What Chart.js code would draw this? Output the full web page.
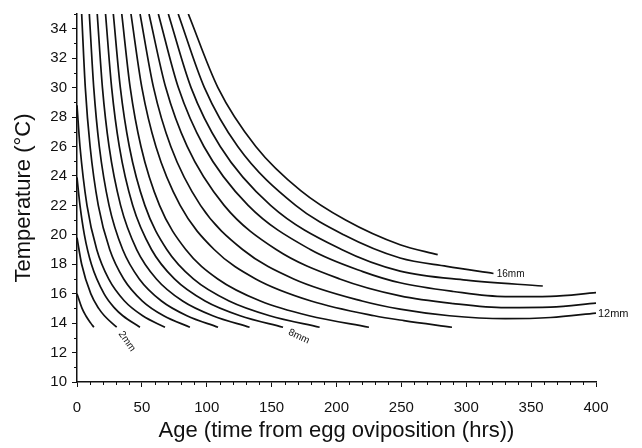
<!DOCTYPE html>
<html>
<head>
<meta charset="utf-8">
<script src="https://cdn.jsdelivr.net/npm/chart.js@4.4.1/dist/chart.umd.min.js"></script>
<style>
  html, body { margin: 0; padding: 0; background: #ffffff; }
  #wrap { width: 642px; height: 448px; position: relative; }
</style>
</head>
<body>
<div id="wrap"><canvas id="c" width="642" height="448"></canvas></div>
<script>
// ---- Data: isolines of larval length, [age (hrs), temperature (°C)] ----
const curve1mm  = [[0,16],[3.9,15],[6.8,14.5],[10.6,14],[13,13.72]];
const curve2mm  = [[0,19.8],[3.6,18],[10.6,16],[16.7,15],[21.1,14.5],[30.6,13.72]];
const curve3mm  = [[0,23.9],[2.3,22],[5.7,20],[11.1,18],[20.8,16],[29.2,15],[35.3,14.5],[48.5,13.72]];
const curve4mm  = [[0,28.8],[2.3,26],[7.7,22],[15.2,19],[24.4,17],[36.6,15.5],[50.6,14.5],[67.8,13.72]];
const curve5mm  = [[3.6,35],[6.4,30],[10.1,26],[16.4,22],[25.2,19],[36,17],[50.4,15.5],[66.8,14.5],[87,13.72]];
const curve6mm  = [[9.5,35],[12.9,30],[17.2,26],[24.7,22],[35.2,19],[48,17],[65.1,15.5],[84.7,14.5],[108.7,13.72]];
const curve7mm  = [[15.6,35],[19.6,30],[24.7,26],[33.6,22],[46,19],[61.2,17],[81.4,15.5],[104.6,14.5],[133,13.72]];
const curve8mm  = [[22,35],[26.7,30],[32.6,26],[42.9,22],[57.4,19],[75.1,17],[98.7,15.5],[125.7,14.5],[158.8,13.72]];
const curve9mm  = [[28,35],[33.4,30],[40.3,26],[52.3,22],[69.2,19],[89.7,17],[117.2,15.5],[148.5,14.5],[187,13.72]];
const curve10mm = [[34.5,35],[41,30],[49.3,26],[63.6,22],[83.8,19],[108.5,17],[141.3,15.5],[178.9,14.5],[225,13.72]];
const curve11mm = [[41.6,35],[50,30],[60.8,26],[79.5,22],[105.7,19],[137.7,17],[180.4,15.5],[229.1,14.5],[252,14.17],[289,13.72]];
const curve12mm = [[48.6,35],[59,30],[72.3,26],[95.2,22],[127.6,19],[167,17],[219.7,15.5],[249,14.95],[287,14.5],[330,14.3],[365,14.38],[400,14.68]];
const curve13mm = [[55.5,35],[68.4,30],[84.9,26],[113.4,22],[153.5,19],[202.5,17],[249,15.85],[290,15.33],[330,15.05],[365,15.08],[400,15.36]];
const curve14mm = [[62.7,35],[78.1,30],[97.8,26],[131.9,22],[179.8,19],[220.3,17.5],[249,16.74],[290,16.15],[330,15.8],[365,15.82],[400,16.07]];
const curve15mm = [[70.4,35],[87.9,30],[110.4,26],[149.2,22],[203.9,19],[249,17.53],[300,16.92],[359,16.52]];
const curve16mm = [[78,35],[98.2,30],[123.9,26],[168.5,22],[205.5,20],[249,18.42],[285,17.85],[321,17.37]];
const curve17mm = [[85.8,35],[108.6,30],[137.8,26],[172.4,23],[207,21],[249,19.32],[278,18.65]];

const curves = [curve1mm, curve2mm, curve3mm, curve4mm, curve5mm, curve6mm, curve7mm, curve8mm,
  curve9mm, curve10mm, curve11mm, curve12mm, curve13mm, curve14mm, curve15mm, curve16mm, curve17mm];

// axis ranges / ticks
const xRange = [0, 400];
const yRange = [10, 35];
const xMajorStep = 50, xMinorStep = 10;
const yMajorStep = 2, yMinorStep = 1;

// curve labels: [text, age, temp, rotationDeg, align, fontSize]
const curveLabels = [
  ['2mm', 38.5, 12.76, 55, 'center', 10],
  ['8mm', 171, 13.09, 25, 'center', 10],
  ['16mm', 323.5, 17.3, 0, 'left', 10],
  ['12mm', 401.5, 14.64, 0, 'left', 11]
];

const FONT = '"Liberation Sans", Arial, Helvetica, sans-serif';
const INK = '#111111';

const extras = {
  id: 'extras',
  afterDraw(chart) {
    const ctx = chart.ctx, xs = chart.scales.x, ys = chart.scales.y;
    ctx.save();
    ctx.strokeStyle = INK; ctx.lineWidth = 1;
    for (let v = xRange[0]; v <= xRange[1]; v += xMinorStep) {
      if (v % xMajorStep === 0) continue;
      const px = Math.round(xs.getPixelForValue(v)) + 0.5;
      ctx.beginPath(); ctx.moveTo(px, ys.bottom); ctx.lineTo(px, ys.bottom + 3); ctx.stroke();
    }
    for (let v = yRange[0]; v <= yRange[1]; v += yMinorStep) {
      if (v % yMajorStep === 0) continue;
      const py = Math.round(ys.getPixelForValue(v)) + 0.5;
      ctx.beginPath(); ctx.moveTo(xs.left, py); ctx.lineTo(xs.left - 3, py); ctx.stroke();
    }
    ctx.fillStyle = INK;
    ctx.textBaseline = 'middle';
    for (const [t, ax, ty, rot, align, fs] of curveLabels) {
      const px = xs.getPixelForValue(ax), py = ys.getPixelForValue(ty);
      ctx.save();
      ctx.translate(px, py);
      ctx.rotate(rot * Math.PI / 180);
      ctx.font = fs + 'px ' + FONT;
      ctx.textAlign = align;
      ctx.fillText(t, 0, 0);
      ctx.restore();
    }
    ctx.restore();
  }
};

new Chart(document.getElementById('c'), {
  type: 'scatter',
  data: {
    datasets: curves.map((c, i) => ({
      label: (i + 1) + 'mm',
      data: c.map(p => ({ x: p[0], y: p[1] })),
      showLine: true,
      borderColor: INK,
      borderWidth: 1.7,
      pointRadius: 0,
      fill: false,
      cubicInterpolationMode: 'monotone'
    }))
  },
  options: {
    responsive: false,
    animation: false,
    devicePixelRatio: 1,
    layout: { padding: { top: 10, right: 46, left: 0, bottom: 0 } },
    plugins: { legend: { display: false }, tooltip: { enabled: false } },
    scales: {
      x: {
        type: 'linear', min: xRange[0], max: xRange[1],
        afterFit(s) { s.height = 66; },
        ticks: { stepSize: xMajorStep, color: INK, font: { family: FONT, size: 15 }, padding: 12, maxRotation: 0, includeBounds: false },
        grid: { drawOnChartArea: false, tickLength: 5, color: INK },
        border: { display: true, color: INK, width: 1.5 },
        title: { display: true, text: 'Age (time from egg oviposition (hrs))', color: INK,
                 font: { family: FONT, size: 22 }, padding: { top: 0, bottom: 4 } }
      },
      y: {
        type: 'linear', min: yRange[0], max: yRange[1],
        afterFit(s) { s.width = 77; },
        afterBuildTicks(s) { s.ticks = s.ticks.filter(t => t.value % yMajorStep === 0); },
        ticks: { stepSize: yMajorStep, color: INK, font: { family: FONT, size: 15 }, padding: 5, includeBounds: false },
        grid: { drawOnChartArea: false, tickLength: 5, color: INK },
        border: { display: true, color: INK, width: 1.5 },
        title: { display: true, text: 'Temperature (°C)', color: INK,
                 font: { family: FONT, size: 22 }, padding: { top: 11, bottom: 0 } }
      }
    }
  },
  plugins: [extras]
});
</script>
</body>
</html>
